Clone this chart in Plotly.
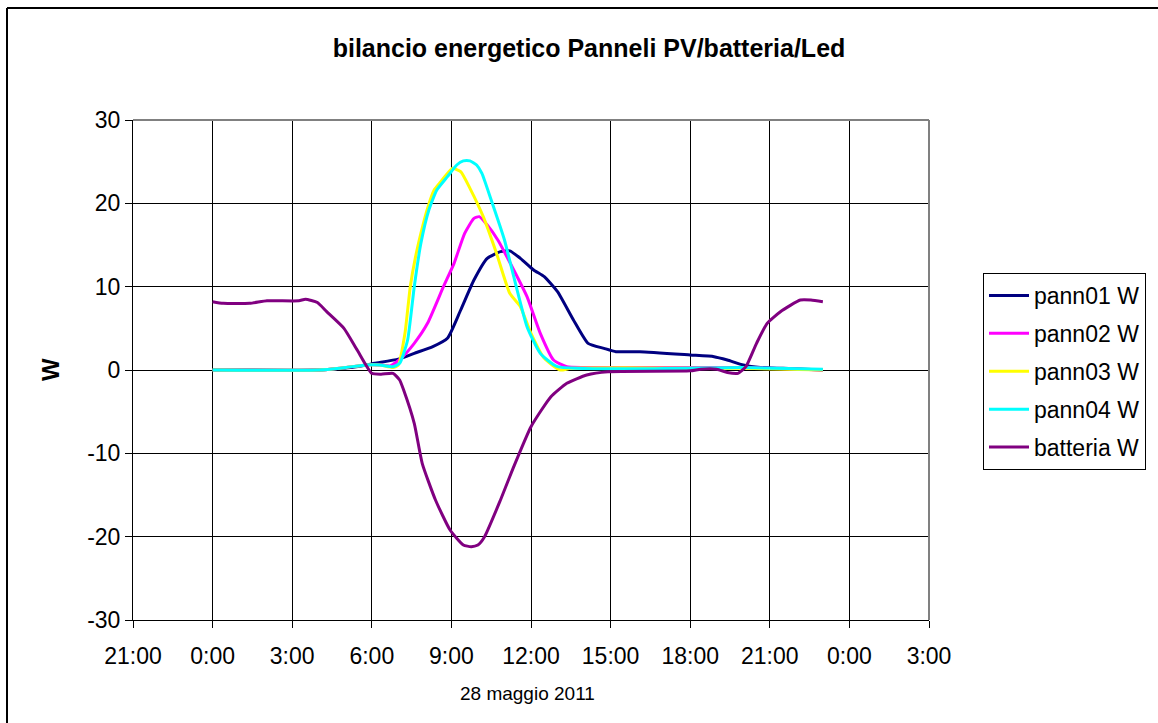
import pandas as pd
import plotly.graph_objects as go

# ---- data (hours after 0:00 of 28 May 2011, watts) ----
pann01_h = [0, 4, 4.5, 5.2, 5.8, 6.1, 7.0, 7.6, 8.3, 8.85, 9.35, 9.85, 10.35, 10.85, 11.2, 11.6,
            12.1, 12.5, 13.0, 13.6, 14.15, 14.75, 15.2, 16.1, 18.0, 18.9, 19.4, 20.0, 20.65, 21.5, 23.0]
pann01_v = [0, 0, 0.1, 0.3, 0.6, 0.8, 1.3, 2.0, 2.8, 3.8, 7.2, 10.8, 13.4, 14.2, 14.3, 13.4,
            12.0, 11.2, 9.4, 6.0, 3.2, 2.6, 2.2, 2.2, 1.8, 1.6, 1.2, 0.6, 0.3, 0.2, 0.0]

pann02_h = [0, 4, 5.0, 5.8, 6.3, 6.7, 7.1, 7.6, 8.1, 8.7, 9.1, 9.5, 9.85, 10.05, 10.35, 10.75,
            11.35, 11.85, 12.35, 12.85, 13.35, 14.0, 20.0, 23.0]
pann02_v = [0, 0, 0.3, 0.6, 0.6, 0.5, 1.4, 3.2, 5.6, 10.0, 12.8, 16.4, 18.2, 18.4, 17.4, 15.6,
            12.0, 8.8, 4.4, 1.2, 0.4, 0.3, 0.3, 0.0]

pann03_h = [0, 4, 5.0, 5.8, 6.3, 6.8, 7.0, 7.25, 7.45, 7.65, 7.85, 8.1, 8.35, 8.6, 8.8, 9.05,
            9.35, 9.7, 10.2, 10.7, 11.2, 11.6, 12.0, 12.5, 13.1, 13.5, 20.0, 23.0]
pann03_v = [0, 0, 0.3, 0.6, 0.6, 0.3, 0.6, 4.4, 10.0, 13.6, 16.4, 19.4, 21.6, 22.6, 23.4, 24.2,
            23.8, 21.8, 18.4, 14.0, 9.2, 7.6, 4.4, 1.4, 0.0, 0.2, 0.2, 0.0]

pann04_h = [0, 4, 5.0, 5.8, 6.3, 6.8, 7.05, 7.35, 7.6, 7.85, 8.15, 8.45, 8.85, 9.2, 9.45, 9.7,
            9.95, 10.15, 10.5, 11.0, 11.35, 11.85, 12.35, 13.0, 20.0, 23.0]
pann04_v = [0, 0, 0.3, 0.6, 0.6, 0.4, 0.8, 3.6, 10.0, 15.2, 19.2, 21.6, 23.2, 24.6, 25.1, 25.1,
            24.6, 23.6, 20.4, 15.6, 11.2, 5.2, 2.0, 0.4, 0.3, 0.1]

batteria_h = [0, 0.4, 1.4, 2.05, 3.25, 3.5, 3.95, 4.3, 4.95, 5.45, 6.0, 6.35, 6.8, 7.05, 7.2, 7.6,
              7.9, 8.4, 8.95, 9.45, 9.75, 10.0, 10.25, 10.85, 11.35, 12.0, 12.75, 13.35, 14.1, 14.9,
              18.0, 18.4, 19.0, 19.4, 19.8, 20.1, 20.5, 20.9, 21.4, 22.15, 22.55, 23.0]
batteria_v = [8.2, 8.0, 8.0, 8.3, 8.3, 8.5, 8.1, 7.0, 5.0, 2.4, -0.4, -0.5, -0.4, -1.2, -2.4, -6.4,
              -11.2, -15.6, -19.2, -21.0, -21.2, -21.0, -20.0, -15.6, -11.6, -6.8, -3.2, -1.6, -0.6, -0.2,
              -0.1, 0.1, 0.1, -0.3, -0.4, 0.4, 3.2, 5.6, 7.0, 8.4, 8.4, 8.2]

series_names = ["pann01 W", "pann02 W", "pann03 W", "pann04 W", "batteria W"]
series_colors = ["#000080", "#FF00FF", "#FFFF00", "#00FFFF", "#800080"]
series_hours = [pann01_h, pann02_h, pann03_h, pann04_h, batteria_h]
series_values = [pann01_v, pann02_v, pann03_v, pann04_v, batteria_v]

y_tick_values = [-30, -20, -10, 0, 10, 20, 30]
y_tick_labels = ["-30", "-20", "-10", "0", "10", "20", "30"]

title_text = "bilancio energetico Panneli PV/batteria/Led"
x_title = "28 maggio 2011"
y_title = "W"
base_day = pd.Timestamp("2011-05-28")

FONT = "Liberation Sans, Arial, sans-serif"

fig = go.Figure()
for i, (name, color, hrs, vals) in enumerate(zip(series_names, series_colors, series_hours, series_values)):
    xs = [base_day + pd.Timedelta(hours=h) for h in hrs]
    fig.add_trace(go.Scatter(
        x=xs, y=vals, name=name, mode="lines", legendgroup="g%d" % i,
        line=dict(color=color, width=3, shape="spline", smoothing=0.5),
    ))

fig.update_layout(
    width=1158, height=723,
    margin=dict(l=133, r=229, t=120, b=103),
    paper_bgcolor="white", plot_bgcolor="white",
    font=dict(family=FONT, color="black", size=23),
    title=dict(text="<b>" + title_text + "</b>", x=(589 - 133) / 796, xref="paper", xanchor="center",
               y=1 - 48 / 723, yref="container", yanchor="middle",
               font=dict(size=25, family=FONT, color="black")),
    showlegend=True,
    legend=dict(x=(983 - 133) / 796, y=(620 - 273) / 500, xanchor="left", yanchor="top",
                bgcolor="white", bordercolor="black", borderwidth=1,
                font=dict(size=23, family=FONT, color="black"),
                itemwidth=40,
                traceorder="grouped", tracegroupgap=5),
)

fig.update_xaxes(
    type="date",
    range=[base_day - pd.Timedelta(hours=3), base_day + pd.Timedelta(hours=27)],
    tick0=base_day - pd.Timedelta(hours=3), dtick=3 * 3600 * 1000,
    tickformat="%-H:%M", tickangle=0, ticklabelstandoff=8,
    showgrid=True, gridcolor="black", gridwidth=1,
    showline=True, linecolor="black", linewidth=1,
    ticks="outside", ticklen=7, tickcolor="black",
    zeroline=False,
    tickfont=dict(size=23, family=FONT),
)
fig.update_yaxes(
    range=[-30, 30], tickmode="array", tickvals=y_tick_values, ticktext=y_tick_labels,
    showgrid=True, gridcolor="black", gridwidth=1,
    showline=True, linecolor="black", linewidth=1,
    ticks="outside", ticklen=7, tickcolor="black",
    zeroline=False,
    tickfont=dict(size=23, family=FONT),
)

# plot-area border (top/right grey)
fig.add_shape(type="line", xref="paper", yref="paper", x0=0, x1=1, y0=1, y1=1,
              line=dict(color="#808080", width=2), layer="above")
fig.add_shape(type="line", xref="paper", yref="paper", x0=1, x1=1, y0=0, y1=1,
              line=dict(color="#808080", width=2), layer="above")
# outer chart border (left and top edges visible)
fig.add_shape(type="line", xref="paper", yref="paper",
              x0=(7 - 133) / 796, x1=(7 - 133) / 796, y0=(620 - 730) / 500, y1=(620 - 8) / 500,
              line=dict(color="black", width=2), layer="above")
fig.add_shape(type="line", xref="paper", yref="paper",
              x0=(7 - 133) / 796, x1=(1165 - 133) / 796, y0=(620 - 8) / 500, y1=(620 - 8) / 500,
              line=dict(color="black", width=2), layer="above")

fig.add_annotation(text=x_title, xref="paper", yref="paper",
                   x=(527 - 133) / 796, y=(620 - 693) / 500, xanchor="center", yanchor="middle",
                   showarrow=False, font=dict(size=19, family=FONT, color="black"))
fig.add_annotation(text="<b>" + y_title + "</b>", xref="paper", yref="paper",
                   x=(50 - 133) / 796, y=0.5, xanchor="center", yanchor="middle", textangle=-90,
                   showarrow=False, font=dict(size=24, family=FONT, color="black"))

fig.write_html("out.html", config={"displayModeBar": False},
               post_script="document.body.style.margin='0';document.body.style.overflow='hidden';"
                           "document.documentElement.style.overflow='hidden';")
